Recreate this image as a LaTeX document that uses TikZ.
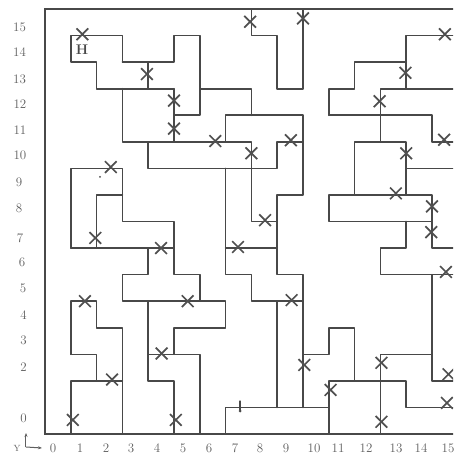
\documentclass[tikz,border=0pt]{standalone}
\usetikzlibrary{arrows.meta,shapes.misc}
\definecolor{wallc}{RGB}{72,72,72}
\definecolor{xc}{RGB}{80,80,80}
\definecolor{labc}{RGB}{95,95,95}
\begin{document}
\begin{tikzpicture}[x=25.8pt,y=26.56pt,
  wall/.style={line width=1.6pt, draw=wallc, line cap=round, line join=round},
  frame/.style={line width=2.3pt, draw=wallc},
  xmk/.style={cross out, draw=xc, line width=1.7pt, minimum size=10pt, inner sep=0pt},
  lab/.style={font=\fontsize{13}{13}\selectfont, text=labc, inner sep=0pt}]
\useasboundingbox (-45pt,-21pt) rectangle (408pt,434pt);
\clip (-45pt,-21pt) rectangle (408pt,434pt);
% frame
\draw[frame] (0,16) -- (0,0) -- (16,0) -- (16,16) -- cycle;
% upper left
\draw[wall] (3,14) -- (3,15) -- (1,15) -- (1,14) -- (2,14) -- (2,13) -- (5,13);
\draw[wall] (3,14) -- (5,14) -- (5,15) -- (6,15) -- (6,12) -- (5,12);
\draw[wall] (4,14) -- (4,13);
\draw[wall] (5,13) -- (5,11);
\draw[wall] (3,13) -- (3,11) -- (8,11) -- (8,8) -- (9,8);
\draw[wall] (4,11) -- (4,10) -- (9,10) -- (9,11) -- (10,11);
\draw[wall] (6,13) -- (8,13) -- (8,12);
\draw[wall] (7,11) -- (7,12) -- (10,12) -- (10,9) -- (9,9) -- (9,6) -- (10,6) -- (10,1);
\draw[wall] (7,10) -- (7,6) -- (8,6) -- (8,5) -- (10,5);
\draw[wall] (7,7) -- (9,7);
\draw[wall] (8,16) -- (8,15) -- (9,15) -- (9,13) -- (10,13) -- (10,16);
% lower left
\draw[wall] (1,7) -- (1,10) -- (3,10) -- (3,8) -- (5,8) -- (5,6) -- (6,6) -- (6,5);
\draw[wall] (2,7) -- (2,9) -- (3,9);
\draw[wall] (1,7) -- (5,7);
\draw[wall] (4,7) -- (4,6) -- (3,6) -- (3,5) -- (7,5) -- (7,4) -- (5,4) -- (5,3);
\draw[wall] (4,5) -- (4,2) -- (5,2) -- (5,0);
\draw[wall] (4,3) -- (6,3) -- (6,0);
\draw[wall] (1,3) -- (1,5) -- (2,5) -- (2,4) -- (3,4) -- (3,0);
\draw[wall] (1,3) -- (2,3) -- (2,2);
\draw[wall] (1,0) -- (1,2) -- (3,2);
% lower right
\draw[wall] (7,0) -- (7,1) -- (11,1);
\draw[wall] (9,5) -- (9,1);
\draw[wall] (10,3) -- (11,3) -- (11,4) -- (12,4) -- (12,2);
\draw[wall] (11,0) -- (11,2) -- (14,2) -- (14,1) -- (16,1);
\draw[wall] (13,0) -- (13,3) -- (15,3);
\draw[wall] (16,2) -- (15,2) -- (15,6);
\draw[wall] (16,6) -- (13,6) -- (13,7) -- (14,7) -- (14,8);
\draw[wall] (11,8) -- (15,8) -- (15,9) -- (11,9) -- cycle;
\draw[wall] (15,8) -- (15,7) -- (16,7);
% upper right
\draw[wall] (12,9) -- (12,11) -- (14,11) -- (14,9);
\draw[wall] (14,10) -- (16,10);
\draw[wall] (13,11) -- (13,13) -- (16,13);
\draw[wall] (11,12) -- (15,12) -- (15,11) -- (16,11);
\draw[wall] (11,12) -- (11,13) -- (12,13) -- (12,14) -- (14,14);
\draw[wall] (14,13) -- (14,15) -- (16,15);
% crosses
\node[xmk] (x1) at (1.45,15.05) {};
\node[xmk] (x2) at (3.95,13.55) {};
\node[xmk] (x3) at (5,12.55) {};
\node[xmk] (x4) at (5,11.5) {};
\node[xmk] (x5) at (6.6,11.03) {};
\node[xmk] (x6) at (8,10.57) {};
\node[xmk] (x7) at (2.55,10.05) {};
\node[xmk] (x8) at (1.95,7.38) {};
\node[xmk] (x9) at (4.5,7) {};
\node[xmk] (x10) at (5.53,5) {};
\node[xmk] (x11) at (1.55,5) {};
\node[xmk] (x12) at (4.52,3.03) {};
\node[xmk] (x13) at (2.6,2.05) {};
\node[xmk] (x14) at (1.08,0.53) {};
\node[xmk] (x15) at (5.07,0.53) {};
\node[xmk] (x16) at (7.95,15.52) {};
\node[xmk] (x17) at (10,15.65) {};
\node[xmk] (x18) at (15.5,15.05) {};
\node[xmk] (x19) at (13.97,13.6) {};
\node[xmk] (x20) at (12.97,12.53) {};
\node[xmk] (x21) at (15.47,11.08) {};
\node[xmk] (x22) at (9.53,11.06) {};
\node[xmk] (x23) at (14,10.57) {};
\node[xmk] (x24) at (13.6,9.06) {};
\node[xmk] (x25) at (15,8.57) {};
\node[xmk] (x26) at (14.97,7.6) {};
\node[xmk] (x27) at (7.48,7.04) {};
\node[xmk] (x28) at (8.53,8.05) {};
\node[xmk] (x29) at (9.56,5.04) {};
\node[xmk] (x30) at (15.54,6.1) {};
\node[xmk] (x31) at (10.05,2.6) {};
\node[xmk] (x32) at (13.04,2.68) {};
\node[xmk] (x33) at (11.07,1.66) {};
\node[xmk] (x34) at (15.64,2.25) {};
\node[xmk] (x35) at (15.58,1.17) {};
\node[xmk] (x36) at (13.04,0.46) {};
% marks
\node[lab, font=\fontsize{14}{14}\selectfont\bfseries, text=wallc] (hh) at (37pt,384pt) {H};
\fill[wallc] (55pt,257pt) circle (1pt);
\draw[wall, line width=1.2pt] (195pt,33pt) -- (195pt,24pt);
\fill[wallc] (195pt,23pt) circle (1.5pt);
% y labels
\node[lab] (ly15) at (-25.5pt,407pt) {15};
\node[lab] (ly14) at (-25.5pt,382pt) {14};
\node[lab] (ly13) at (-25.5pt,355pt) {13};
\node[lab] (ly12) at (-25pt,330pt) {12};
\node[lab] (ly11) at (-25pt,304pt) {11};
\node[lab] (ly10) at (-25pt,279pt) {10};
\node[lab] (ly9) at (-26pt,252pt) {9};
\node[lab] (ly8) at (-26pt,226pt) {8};
\node[lab] (ly7) at (-25pt,196pt) {7};
\node[lab] (ly6) at (-23pt,172pt) {6};
\node[lab] (ly5) at (-22pt,146pt) {5};
\node[lab] (ly4) at (-21.5pt,119pt) {4};
\node[lab] (ly3) at (-21.5pt,94pt) {3};
\node[lab] (ly2) at (-21.5pt,67pt) {2};
\node[lab] (ly0) at (-21.5pt,16pt) {0};
% x labels
\foreach \xx/\tt in {8/0,35/1,61/2,86/3,112/4,138/5,164/6,190/7,215/8,241/9,269/10,293/11,321/12,351/13,376/14,403/15}
  \node[lab] (lx\tt) at (\xx pt,-14pt) {\tt};
% axis
\coordinate (ac) at (-19pt,-13pt);
\coordinate (au) at (-19pt,1pt);
\coordinate (ar) at (-3pt,-14pt);
\draw[line width=1pt, draw=labc, -{Stealth[length=4pt]}] (ac) -- (au);
\draw[line width=1pt, draw=labc, -{Stealth[length=4pt]}] (ac) -- (ar);
\node[lab, font=\fontsize{9}{9}\selectfont] (ay) at (-28pt,-14pt) {Y};
\end{tikzpicture}
\end{document}
